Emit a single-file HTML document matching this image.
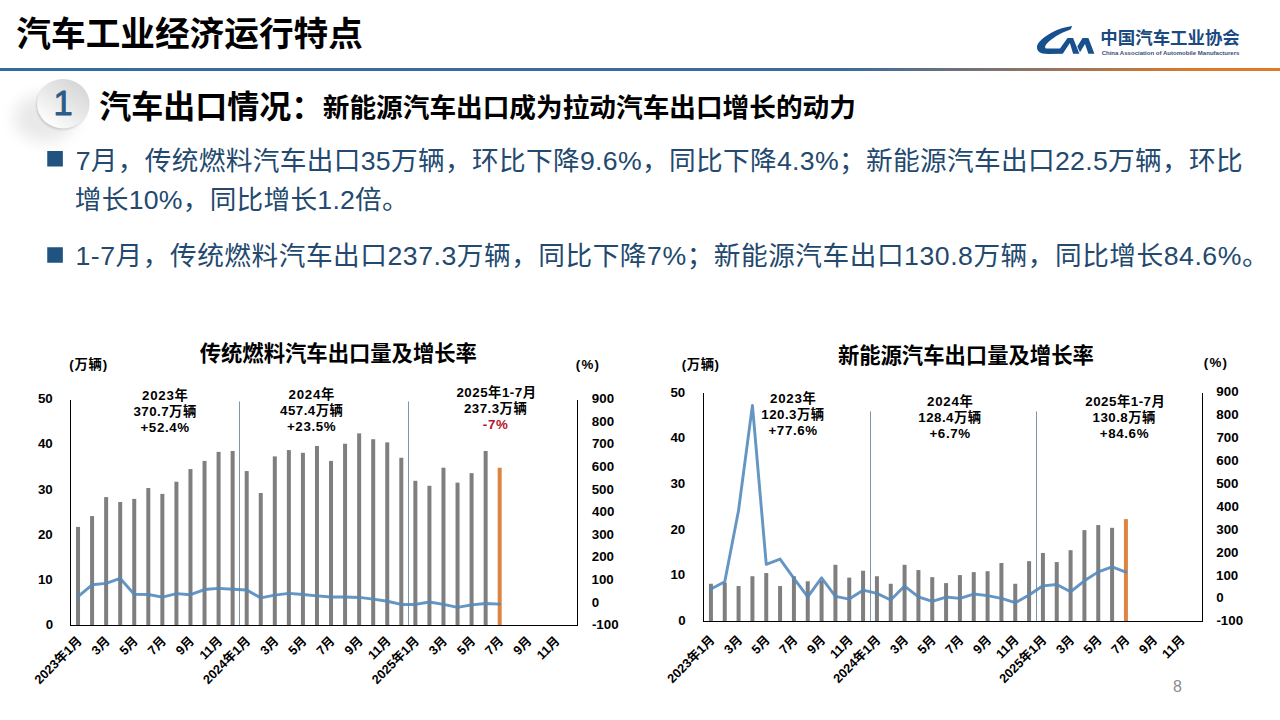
<!DOCTYPE html>
<html lang="zh-CN"><head><meta charset="utf-8"><title>汽车工业经济运行特点</title>
<style>
html,body{margin:0;padding:0;background:#fff}
body{width:1280px;height:720px;position:relative;overflow:hidden;font-family:"Liberation Sans",sans-serif}
#slide{position:absolute;left:0;top:0;width:1280px;height:720px;overflow:hidden;background:#fff}
.t{margin:0;padding:0;font-weight:normal;position:absolute;white-space:nowrap;overflow:hidden;color:transparent;line-height:1.15;height:1.15em;font-family:"Liberation Sans",sans-serif;z-index:2;pointer-events:none}
svg text{font-family:"Liberation Sans","Noto Sans CJK SC",sans-serif}
svg .b{font-weight:bold}
svg .ax{font-weight:bold;font-size:13.33px;fill:#000}
svg .xl{font-weight:bold;font-size:12.7px;fill:#000;text-anchor:end}
</style></head><body><div id="slide">
<svg width="1280" height="720" viewBox="0 0 1280 720" style="position:absolute;left:0;top:0">
<defs>
<linearGradient id="hl" x1="0" y1="0" x2="1280" y2="0" gradientUnits="userSpaceOnUse">
<stop offset="0" stop-color="#366B9E"/><stop offset="0.66" stop-color="#3B6C9C"/><stop offset="0.80" stop-color="#8A7468"/><stop offset="0.93" stop-color="#D87A2C"/><stop offset="1" stop-color="#E07A26"/></linearGradient>
<linearGradient id="bg1" x1="0.85" y1="0.1" x2="0.2" y2="0.95">
<stop offset="0" stop-color="#D6D6D6"/><stop offset="0.5" stop-color="#E9E9E9"/><stop offset="1" stop-color="#FFFFFF"/></linearGradient>
<filter id="sh" x="-100%" y="-100%" width="300%" height="300%"><feGaussianBlur stdDeviation="8"/></filter>
<filter id="sh2" x="-50%" y="-50%" width="200%" height="200%"><feGaussianBlur stdDeviation="1.2"/></filter>
</defs>
<text class="b" x="16.32" y="46.46" font-size="34.67" fill="#000">汽车工业经济运行特点</text>
<rect x="0" y="68" width="1280" height="3" fill="url(#hl)"/>
<path fill="#17508C" d="M1072.2,26 C1058,27.6 1044.5,35.5 1038.6,42.8 C1035.6,46.8 1036.6,52 1042.5,53.5 L1048,53.9 L1062.8,53.8 L1069.9,42.9 L1073.1,53.8 L1079.4,53.8 L1073.1,37.9 L1067.5,37.9 L1060,48.5 L1045.9,48.5 C1044.4,47.2 1045.2,45.4 1047.2,43.2 C1051.5,39 1059.5,33.2 1070.6,29.6 Z"/>
<path fill="#17508C" d="M1082.5,37.9 L1088.4,37.9 L1094.4,53.8 L1088.4,53.8 L1085,44.1 L1080,52.25 L1077.3,46.6 Z"/>
<text class="b" x="1100.37" y="43.68" font-size="17.43" fill="#1B4A80">中国汽车工业协会</text>
<text class="b" x="1101.65" y="54.5" font-size="6.1" fill="#3A4E78" textLength="137.8" lengthAdjust="spacingAndGlyphs">China Association of Automobile Manufacturers</text>
<ellipse cx="45" cy="118" rx="31" ry="24" fill="#000" opacity="0.085" filter="url(#sh)"/>
<ellipse cx="62.4" cy="105" rx="26" ry="24.6" fill="#000" opacity="0.16" filter="url(#sh2)"/>
<ellipse cx="63.25" cy="103.75" rx="26.25" ry="24.75" fill="url(#bg1)"/>
<text x="53.43" y="115.1" font-size="34.5" fill="#2B5B86" stroke="#2B5B86" stroke-width="0.9" stroke-linejoin="round">1</text>
<text class="b" x="99.14" y="117.68" font-size="32" fill="#000">汽车出口情况：</text>
<text class="b" x="322.79" y="116.89" font-size="26.67" fill="#000">新能源汽车出口成为拉动汽车出口增长的动力</text>
<rect x="47.25" y="151" width="15.6" height="15.5" fill="#20537F"/>
<rect x="47.25" y="247.25" width="15.6" height="15.5" fill="#20537F"/>
<text x="75.7" y="169.6" font-size="26.67" fill="#23496E" textLength="1167" lengthAdjust="spacing">7月，传统燃料汽车出口35万辆，环比下降9.6%，同比下降4.3%；新能源汽车出口22.5万辆，环比</text>
<text x="74.87" y="209" font-size="26.67" fill="#23496E" textLength="333.8" lengthAdjust="spacing">增长10%，同比增长1.2倍。</text>
<text x="75.49" y="265.3" font-size="26.67" fill="#23496E" textLength="1193.1" lengthAdjust="spacing">1-7月，传统燃料汽车出口237.3万辆，同比下降7%；新能源汽车出口130.8万辆，同比增长84.6%。</text>
<text x="1172.93" y="692" font-size="16" fill="#8C8C8C">8</text>
<rect x="239" y="401.5" width="1" height="223.5" fill="#7D96A8"/>
<rect x="408" y="401.5" width="1" height="223.5" fill="#7D96A8"/>
<rect x="76.03" y="526.92" width="4" height="98.08" fill="#7F7F7F"/><rect x="90.08" y="516.07" width="4" height="108.93" fill="#7F7F7F"/><rect x="104.14" y="497.08" width="4" height="127.92" fill="#7F7F7F"/><rect x="118.19" y="502.06" width="4" height="122.94" fill="#7F7F7F"/><rect x="132.25" y="498.89" width="4" height="126.11" fill="#7F7F7F"/><rect x="146.31" y="488.04" width="4" height="136.96" fill="#7F7F7F"/><rect x="160.36" y="493.92" width="4" height="131.08" fill="#7F7F7F"/><rect x="174.42" y="481.72" width="4" height="143.28" fill="#7F7F7F"/><rect x="188.47" y="469.06" width="4" height="155.94" fill="#7F7F7F"/><rect x="202.53" y="460.92" width="4" height="164.08" fill="#7F7F7F"/><rect x="216.58" y="451.88" width="4" height="173.12" fill="#7F7F7F"/><rect x="230.64" y="450.98" width="4" height="174.02" fill="#7F7F7F"/><rect x="244.69" y="471.05" width="4" height="153.95" fill="#7F7F7F"/><rect x="258.75" y="493.02" width="4" height="131.98" fill="#7F7F7F"/><rect x="272.81" y="456.4" width="4" height="168.6" fill="#7F7F7F"/><rect x="286.86" y="450.08" width="4" height="174.92" fill="#7F7F7F"/><rect x="300.92" y="452.79" width="4" height="172.21" fill="#7F7F7F"/><rect x="314.97" y="446.01" width="4" height="178.99" fill="#7F7F7F"/><rect x="329.03" y="460.92" width="4" height="164.08" fill="#7F7F7F"/><rect x="343.08" y="443.75" width="4" height="181.25" fill="#7F7F7F"/><rect x="357.14" y="433.35" width="4" height="191.65" fill="#7F7F7F"/><rect x="371.19" y="439.23" width="4" height="185.77" fill="#7F7F7F"/><rect x="385.25" y="442.39" width="4" height="182.61" fill="#7F7F7F"/><rect x="399.31" y="457.76" width="4" height="167.24" fill="#7F7F7F"/><rect x="413.36" y="480.81" width="4" height="144.19" fill="#7F7F7F"/><rect x="427.42" y="485.78" width="4" height="139.22" fill="#7F7F7F"/><rect x="441.47" y="467.7" width="4" height="157.3" fill="#7F7F7F"/><rect x="455.53" y="482.62" width="4" height="142.38" fill="#7F7F7F"/><rect x="469.58" y="473.13" width="4" height="151.87" fill="#7F7F7F"/><rect x="483.64" y="450.98" width="4" height="174.02" fill="#7F7F7F"/><rect x="497.69" y="467.7" width="4" height="157.3" fill="#DE8443"/>
<polyline points="78.03,596.52 92.08,584.77 106.14,583.42 120.19,578.44 134.25,594.26 148.31,594.49 162.36,597.07 176.42,593.59 190.47,594.72 204.53,589.52 218.58,588.39 232.64,589.29 246.69,590.06 260.75,597.88 274.81,595.17 288.86,593.36 302.92,594.49 316.97,595.85 331.03,596.98 345.08,596.98 359.14,597.43 373.19,599.12 387.25,601.27 401.31,604.43 415.36,604.43 429.42,601.95 443.47,604.43 457.53,607.37 471.58,604.89 485.64,603.53 499.69,604.1" fill="none" stroke="#538ABC" stroke-width="2.9" stroke-linejoin="round" stroke-linecap="round" opacity="0.9"/>
<rect x="70" y="400" width="1" height="226" fill="#000"/>
<rect x="577" y="400" width="1" height="226" fill="#000"/>
<rect x="70" y="625" width="508" height="1" fill="#000"/>
<text class="ax" x="45.75" y="629.1">0</text>
<text class="ax" x="37.92" y="583.9">10</text>
<text class="ax" x="37.92" y="538.7">20</text>
<text class="ax" x="37.92" y="493.5">30</text>
<text class="ax" x="37.92" y="448.3">40</text>
<text class="ax" x="37.92" y="403.1">50</text>
<text class="ax" x="591.89" y="629.1">-100</text>
<text class="ax" x="591.8" y="606.5">0</text>
<text class="ax" x="591.49" y="583.9">100</text>
<text class="ax" x="591.78" y="561.3">200</text>
<text class="ax" x="591.78" y="538.7">300</text>
<text class="ax" x="592.07" y="516.1">400</text>
<text class="ax" x="591.63" y="493.5">500</text>
<text class="ax" x="591.82" y="470.9">600</text>
<text class="ax" x="591.93" y="448.3">700</text>
<text class="ax" x="591.82" y="425.7">800</text>
<text class="ax" x="591.86" y="403.1">900</text>
<text class="b" x="199.66" y="360.99" font-size="21.33" fill="#000">传统燃料汽车出口量及增长率</text>
<text class="ax" x="69.22" y="368.9" textLength="37.9" lengthAdjust="spacing">(万辆)</text>
<text class="ax" x="575.72" y="368.6" textLength="23.3" lengthAdjust="spacing">(%)</text>
<text class="ax" x="142.11" y="399.5" textLength="45.8" lengthAdjust="spacing">2023年</text>
<text class="ax" x="133.41" y="415.5" textLength="62.8" lengthAdjust="spacing">370.7万辆</text>
<text class="ax" x="140.4" y="431.5" textLength="48.8" lengthAdjust="spacing">+52.4%</text>
<text class="ax" x="288.61" y="399.3" textLength="45.8" lengthAdjust="spacing">2024年</text>
<text class="ax" x="280.06" y="415.3" textLength="62.8" lengthAdjust="spacing">457.4万辆</text>
<text class="ax" x="286.9" y="431.3" textLength="48.8" lengthAdjust="spacing">+23.5%</text>
<text class="ax" x="456.42" y="396.8" textLength="79.6" lengthAdjust="spacing">2025年1-7月</text>
<text class="ax" x="463.91" y="412.8" textLength="62.8" lengthAdjust="spacing">237.3万辆</text>
<text class="ax" x="482.84" y="428.8" textLength="25.1" lengthAdjust="spacing" style="fill:#B8142A">-7%</text>
<text class="xl" x="76.23" y="646.15" transform="rotate(-45 74.13 636.25)">2023年1月</text>
<text class="xl" x="104.34" y="646.15" transform="rotate(-45 102.24 636.25)">3月</text>
<text class="xl" x="132.45" y="646.15" transform="rotate(-45 130.35 636.25)">5月</text>
<text class="xl" x="160.56" y="646.15" transform="rotate(-45 158.46 636.25)">7月</text>
<text class="xl" x="188.67" y="646.15" transform="rotate(-45 186.57 636.25)">9月</text>
<text class="xl" x="216.78" y="646.15" transform="rotate(-45 214.68 636.25)">11月</text>
<text class="xl" x="244.89" y="646.15" transform="rotate(-45 242.79 636.25)">2024年1月</text>
<text class="xl" x="273.01" y="646.15" transform="rotate(-45 270.91 636.25)">3月</text>
<text class="xl" x="301.12" y="646.15" transform="rotate(-45 299.02 636.25)">5月</text>
<text class="xl" x="329.23" y="646.15" transform="rotate(-45 327.13 636.25)">7月</text>
<text class="xl" x="357.34" y="646.15" transform="rotate(-45 355.24 636.25)">9月</text>
<text class="xl" x="385.45" y="646.15" transform="rotate(-45 383.35 636.25)">11月</text>
<text class="xl" x="413.56" y="646.15" transform="rotate(-45 411.46 636.25)">2025年1月</text>
<text class="xl" x="441.67" y="646.15" transform="rotate(-45 439.57 636.25)">3月</text>
<text class="xl" x="469.78" y="646.15" transform="rotate(-45 467.68 636.25)">5月</text>
<text class="xl" x="497.89" y="646.15" transform="rotate(-45 495.79 636.25)">7月</text>
<text class="xl" x="526.01" y="646.15" transform="rotate(-45 523.91 636.25)">9月</text>
<text class="xl" x="554.12" y="646.15" transform="rotate(-45 552.02 636.25)">11月</text>
<rect x="870" y="411.5" width="1" height="209.5" fill="#7D96A8"/>
<rect x="1036" y="411.5" width="1" height="209.5" fill="#7D96A8"/>
<rect x="708.92" y="583.77" width="4" height="37.23" fill="#7F7F7F"/><rect x="722.75" y="582.63" width="4" height="38.37" fill="#7F7F7F"/><rect x="736.58" y="586.05" width="4" height="34.95" fill="#7F7F7F"/><rect x="750.42" y="576.23" width="4" height="44.77" fill="#7F7F7F"/><rect x="764.25" y="573.04" width="4" height="47.96" fill="#7F7F7F"/><rect x="778.08" y="586.05" width="4" height="34.95" fill="#7F7F7F"/><rect x="791.92" y="576.23" width="4" height="44.77" fill="#7F7F7F"/><rect x="805.75" y="581.26" width="4" height="39.74" fill="#7F7F7F"/><rect x="819.58" y="580.8" width="4" height="40.2" fill="#7F7F7F"/><rect x="833.42" y="564.81" width="4" height="56.19" fill="#7F7F7F"/><rect x="847.25" y="577.6" width="4" height="43.4" fill="#7F7F7F"/><rect x="861.08" y="570.75" width="4" height="50.25" fill="#7F7F7F"/><rect x="874.92" y="576.23" width="4" height="44.77" fill="#7F7F7F"/><rect x="888.75" y="583.77" width="4" height="37.23" fill="#7F7F7F"/><rect x="902.58" y="564.81" width="4" height="56.19" fill="#7F7F7F"/><rect x="916.42" y="570.07" width="4" height="50.93" fill="#7F7F7F"/><rect x="930.25" y="577.15" width="4" height="43.85" fill="#7F7F7F"/><rect x="944.08" y="583.09" width="4" height="37.91" fill="#7F7F7F"/><rect x="957.92" y="575.09" width="4" height="45.91" fill="#7F7F7F"/><rect x="971.75" y="572.12" width="4" height="48.88" fill="#7F7F7F"/><rect x="985.58" y="571.21" width="4" height="49.79" fill="#7F7F7F"/><rect x="999.42" y="562.99" width="4" height="58.01" fill="#7F7F7F"/><rect x="1013.25" y="583.77" width="4" height="37.23" fill="#7F7F7F"/><rect x="1027.08" y="561.16" width="4" height="59.84" fill="#7F7F7F"/><rect x="1040.92" y="552.94" width="4" height="68.06" fill="#7F7F7F"/><rect x="1054.75" y="562.07" width="4" height="58.93" fill="#7F7F7F"/><rect x="1068.58" y="550.2" width="4" height="70.8" fill="#7F7F7F"/><rect x="1082.42" y="530.1" width="4" height="90.9" fill="#7F7F7F"/><rect x="1096.25" y="525.07" width="4" height="95.93" fill="#7F7F7F"/><rect x="1110.08" y="527.81" width="4" height="93.19" fill="#7F7F7F"/><rect x="1123.92" y="519.13" width="4" height="101.87" fill="#DE8443"/>
<polyline points="710.92,589.02 724.75,581.72 738.58,510.23 752.42,405.39 766.25,564.36 780.08,559.1 793.92,578.4 807.75,596.79 821.58,577.83 835.42,596.33 849.25,599.07 863.08,590.17 876.92,593.36 890.75,599.99 904.58,586.05 918.42,596.79 932.25,601.36 946.08,597.02 959.92,598.39 973.75,594.05 987.58,595.65 1001.42,598.39 1015.25,602.73 1029.08,595.08 1042.92,585.83 1056.75,584.46 1070.58,591.76 1084.42,580.8 1098.25,571.89 1112.08,566.87 1125.92,572.12" fill="none" stroke="#538ABC" stroke-width="2.9" stroke-linejoin="round" stroke-linecap="round" opacity="0.9"/>
<rect x="703" y="393" width="1" height="229" fill="#000"/>
<rect x="1202" y="393" width="1" height="229" fill="#000"/>
<rect x="703" y="621" width="500" height="1" fill="#000"/>
<text class="ax" x="678.25" y="625">0</text>
<text class="ax" x="670.42" y="579.32">10</text>
<text class="ax" x="670.42" y="533.64">20</text>
<text class="ax" x="670.42" y="487.96">30</text>
<text class="ax" x="670.42" y="442.28">40</text>
<text class="ax" x="670.42" y="396.6">50</text>
<text class="ax" x="1216.39" y="625.4">-100</text>
<text class="ax" x="1216.3" y="602.49">0</text>
<text class="ax" x="1215.99" y="579.58">100</text>
<text class="ax" x="1216.28" y="556.67">200</text>
<text class="ax" x="1216.28" y="533.76">300</text>
<text class="ax" x="1216.57" y="510.85">400</text>
<text class="ax" x="1216.13" y="487.94">500</text>
<text class="ax" x="1216.32" y="465.03">600</text>
<text class="ax" x="1216.43" y="442.12">700</text>
<text class="ax" x="1216.32" y="419.21">800</text>
<text class="ax" x="1216.36" y="396.3">900</text>
<text class="b" x="837.88" y="363.49" font-size="21.33" fill="#000">新能源汽车出口量及增长率</text>
<text class="ax" x="681.72" y="368.9" textLength="37.3" lengthAdjust="spacing">(万辆)</text>
<text class="ax" x="1203.77" y="367" textLength="23.3" lengthAdjust="spacing">(%)</text>
<text class="ax" x="770.11" y="403.1" textLength="45.8" lengthAdjust="spacing">2023年</text>
<text class="ax" x="761.26" y="419.1" textLength="62.8" lengthAdjust="spacing">120.3万辆</text>
<text class="ax" x="768.4" y="435.1" textLength="48.8" lengthAdjust="spacing">+77.6%</text>
<text class="ax" x="927.11" y="406" textLength="45.8" lengthAdjust="spacing">2024年</text>
<text class="ax" x="918.26" y="422" textLength="62.8" lengthAdjust="spacing">128.4万辆</text>
<text class="ax" x="929.44" y="438" textLength="40.7" lengthAdjust="spacing">+6.7%</text>
<text class="ax" x="1085.22" y="405.6" textLength="79.6" lengthAdjust="spacing">2025年1-7月</text>
<text class="ax" x="1092.56" y="421.6" textLength="62.8" lengthAdjust="spacing">130.8万辆</text>
<text class="ax" x="1099.7" y="437.6" textLength="48.8" lengthAdjust="spacing">+84.6%</text>
<text class="xl" x="709.12" y="645.2" transform="rotate(-45 707.02 635.3)">2023年1月</text>
<text class="xl" x="736.78" y="645.2" transform="rotate(-45 734.68 635.3)">3月</text>
<text class="xl" x="764.45" y="645.2" transform="rotate(-45 762.35 635.3)">5月</text>
<text class="xl" x="792.12" y="645.2" transform="rotate(-45 790.02 635.3)">7月</text>
<text class="xl" x="819.78" y="645.2" transform="rotate(-45 817.68 635.3)">9月</text>
<text class="xl" x="847.45" y="645.2" transform="rotate(-45 845.35 635.3)">11月</text>
<text class="xl" x="875.12" y="645.2" transform="rotate(-45 873.02 635.3)">2024年1月</text>
<text class="xl" x="902.78" y="645.2" transform="rotate(-45 900.68 635.3)">3月</text>
<text class="xl" x="930.45" y="645.2" transform="rotate(-45 928.35 635.3)">5月</text>
<text class="xl" x="958.12" y="645.2" transform="rotate(-45 956.02 635.3)">7月</text>
<text class="xl" x="985.78" y="645.2" transform="rotate(-45 983.68 635.3)">9月</text>
<text class="xl" x="1013.45" y="645.2" transform="rotate(-45 1011.35 635.3)">11月</text>
<text class="xl" x="1041.12" y="645.2" transform="rotate(-45 1039.02 635.3)">2025年1月</text>
<text class="xl" x="1068.78" y="645.2" transform="rotate(-45 1066.68 635.3)">3月</text>
<text class="xl" x="1096.45" y="645.2" transform="rotate(-45 1094.35 635.3)">5月</text>
<text class="xl" x="1124.12" y="645.2" transform="rotate(-45 1122.02 635.3)">7月</text>
<text class="xl" x="1151.78" y="645.2" transform="rotate(-45 1149.68 635.3)">9月</text>
<text class="xl" x="1179.45" y="645.2" transform="rotate(-45 1177.35 635.3)">11月</text>
</svg>
<h1 class="t" style="left:16.84px;top:13.65px;font-size:34.67px;width:366.04px;font-weight:bold;">汽车工业经济运行特点</h1>
<div class="t" style="left:1100.62px;top:27.69px;font-size:16.9px;width:148.43px;font-weight:bold;">中国汽车工业协会</div>
<div class="t" style="left:1101.65px;top:49.01px;font-size:6.1px;width:146.84px;font-weight:bold;">China Association of Automobile Manufacturers</div>
<div class="t" style="left:53.43px;top:84.05px;font-size:34.5px;width:22.71px;">1</div>
<h2 class="t" style="left:99.62px;top:87.4px;font-size:32px;width:203.6px;font-weight:bold;">汽车出口情况：</h2>
<h2 class="t" style="left:323.19px;top:91.65px;font-size:26.67px;width:562.07px;font-weight:bold;">新能源汽车出口成为拉动汽车出口增长的动力</h2>
<p class="t" style="left:75.7px;top:144.75px;font-size:26.67px;width:1225.56px;">7月，传统燃料汽车出口35万辆，环比下降9.6%，同比下降4.3%；新能源汽车出口22.5万辆，环比</p>
<p class="t" style="left:75.52px;top:184.1px;font-size:26.67px;width:354.73px;">增长10%，同比增长1.2倍。</p>
<p class="t" style="left:75.49px;top:240.4px;font-size:26.67px;width:1247.36px;">1-7月，传统燃料汽车出口237.3万辆，同比下降7%；新能源汽车出口130.8万辆，同比增长84.6%。</p>
<div class="t" style="left:1172.93px;top:677.6px;font-size:16px;width:11.61px;">8</div>
<div class="t" style="left:45.75px;top:617.1px;font-size:13.33px;width:10.23px;font-weight:bold;">0</div>
<div class="t" style="left:37.92px;top:571.9px;font-size:13.33px;width:18.46px;font-weight:bold;">10</div>
<div class="t" style="left:37.92px;top:526.7px;font-size:13.33px;width:18.46px;font-weight:bold;">20</div>
<div class="t" style="left:37.92px;top:481.5px;font-size:13.33px;width:18.46px;font-weight:bold;">30</div>
<div class="t" style="left:37.92px;top:436.3px;font-size:13.33px;width:18.46px;font-weight:bold;">40</div>
<div class="t" style="left:37.92px;top:391.1px;font-size:13.33px;width:18.46px;font-weight:bold;">50</div>
<div class="t" style="left:591.89px;top:617.1px;font-size:13.33px;width:31.33px;font-weight:bold;">-100</div>
<div class="t" style="left:591.8px;top:594.5px;font-size:13.33px;width:10.23px;font-weight:bold;">0</div>
<div class="t" style="left:591.49px;top:571.9px;font-size:13.33px;width:26.69px;font-weight:bold;">100</div>
<div class="t" style="left:591.78px;top:549.3px;font-size:13.33px;width:26.69px;font-weight:bold;">200</div>
<div class="t" style="left:591.78px;top:526.7px;font-size:13.33px;width:26.69px;font-weight:bold;">300</div>
<div class="t" style="left:592.07px;top:504.1px;font-size:13.33px;width:26.69px;font-weight:bold;">400</div>
<div class="t" style="left:591.63px;top:481.5px;font-size:13.33px;width:26.69px;font-weight:bold;">500</div>
<div class="t" style="left:591.82px;top:458.9px;font-size:13.33px;width:26.69px;font-weight:bold;">600</div>
<div class="t" style="left:591.93px;top:436.3px;font-size:13.33px;width:26.69px;font-weight:bold;">700</div>
<div class="t" style="left:591.82px;top:413.7px;font-size:13.33px;width:26.69px;font-weight:bold;">800</div>
<div class="t" style="left:591.86px;top:391.1px;font-size:13.33px;width:26.69px;font-weight:bold;">900</div>
<h3 class="t" style="left:199.98px;top:340.8px;font-size:21.33px;width:293.15px;font-weight:bold;">传统燃料汽车出口量及增长率</h3>
<div class="t" style="left:69.22px;top:356.6px;font-size:13.33px;width:6.44px;font-weight:bold;">(万辆)</div>
<div class="t" style="left:575.72px;top:356.6px;font-size:13.33px;width:6.44px;font-weight:bold;">(%)</div>
<div class="t" style="left:142.11px;top:387.5px;font-size:13.33px;width:49.87px;font-weight:bold;">2023年</div>
<div class="t" style="left:133.41px;top:403.5px;font-size:13.33px;width:68.1px;font-weight:bold;">370.7万辆</div>
<div class="t" style="left:140.4px;top:419.5px;font-size:13.33px;width:53.47px;font-weight:bold;">+52.4%</div>
<div class="t" style="left:288.61px;top:387.3px;font-size:13.33px;width:49.87px;font-weight:bold;">2024年</div>
<div class="t" style="left:280.06px;top:403.3px;font-size:13.33px;width:68.1px;font-weight:bold;">457.4万辆</div>
<div class="t" style="left:286.9px;top:419.3px;font-size:13.33px;width:53.47px;font-weight:bold;">+23.5%</div>
<div class="t" style="left:456.42px;top:384.8px;font-size:13.33px;width:85.58px;font-weight:bold;">2025年1-7月</div>
<div class="t" style="left:463.91px;top:400.8px;font-size:13.33px;width:68.1px;font-weight:bold;">237.3万辆</div>
<div class="t" style="left:482.84px;top:416.8px;font-size:13.33px;width:28.61px;font-weight:bold;">-7%</div>
<div class="t" style="left:13.28px;top:634.72px;font-size:12.7px;width:67.87px;font-weight:bold;transform-origin:60.84px 1.53px;transform:rotate(-45deg);">2023年1月</div>
<div class="t" style="left:83.96px;top:634.72px;font-size:12.7px;width:23.17px;font-weight:bold;transform-origin:18.28px 1.53px;transform:rotate(-45deg);">3月</div>
<div class="t" style="left:112.07px;top:634.72px;font-size:12.7px;width:23.17px;font-weight:bold;transform-origin:18.28px 1.53px;transform:rotate(-45deg);">5月</div>
<div class="t" style="left:140.18px;top:634.72px;font-size:12.7px;width:23.17px;font-weight:bold;transform-origin:18.28px 1.53px;transform:rotate(-45deg);">7月</div>
<div class="t" style="left:168.29px;top:634.72px;font-size:12.7px;width:23.17px;font-weight:bold;transform-origin:18.28px 1.53px;transform:rotate(-45deg);">9月</div>
<div class="t" style="left:188.94px;top:634.72px;font-size:12.7px;width:31.01px;font-weight:bold;transform-origin:25.74px 1.53px;transform:rotate(-45deg);">11月</div>
<div class="t" style="left:181.95px;top:634.72px;font-size:12.7px;width:67.87px;font-weight:bold;transform-origin:60.84px 1.53px;transform:rotate(-45deg);">2024年1月</div>
<div class="t" style="left:252.63px;top:634.72px;font-size:12.7px;width:23.17px;font-weight:bold;transform-origin:18.28px 1.53px;transform:rotate(-45deg);">3月</div>
<div class="t" style="left:280.74px;top:634.72px;font-size:12.7px;width:23.17px;font-weight:bold;transform-origin:18.28px 1.53px;transform:rotate(-45deg);">5月</div>
<div class="t" style="left:308.85px;top:634.72px;font-size:12.7px;width:23.17px;font-weight:bold;transform-origin:18.28px 1.53px;transform:rotate(-45deg);">7月</div>
<div class="t" style="left:336.96px;top:634.72px;font-size:12.7px;width:23.17px;font-weight:bold;transform-origin:18.28px 1.53px;transform:rotate(-45deg);">9月</div>
<div class="t" style="left:357.61px;top:634.72px;font-size:12.7px;width:31.01px;font-weight:bold;transform-origin:25.74px 1.53px;transform:rotate(-45deg);">11月</div>
<div class="t" style="left:350.62px;top:634.72px;font-size:12.7px;width:67.87px;font-weight:bold;transform-origin:60.84px 1.53px;transform:rotate(-45deg);">2025年1月</div>
<div class="t" style="left:421.29px;top:634.72px;font-size:12.7px;width:23.17px;font-weight:bold;transform-origin:18.28px 1.53px;transform:rotate(-45deg);">3月</div>
<div class="t" style="left:449.41px;top:634.72px;font-size:12.7px;width:23.17px;font-weight:bold;transform-origin:18.28px 1.53px;transform:rotate(-45deg);">5月</div>
<div class="t" style="left:477.52px;top:634.72px;font-size:12.7px;width:23.17px;font-weight:bold;transform-origin:18.28px 1.53px;transform:rotate(-45deg);">7月</div>
<div class="t" style="left:505.63px;top:634.72px;font-size:12.7px;width:23.17px;font-weight:bold;transform-origin:18.28px 1.53px;transform:rotate(-45deg);">9月</div>
<div class="t" style="left:526.27px;top:634.72px;font-size:12.7px;width:31.01px;font-weight:bold;transform-origin:25.74px 1.53px;transform:rotate(-45deg);">11月</div>
<div class="t" style="left:678.25px;top:613px;font-size:13.33px;width:10.23px;font-weight:bold;">0</div>
<div class="t" style="left:670.42px;top:567.32px;font-size:13.33px;width:18.46px;font-weight:bold;">10</div>
<div class="t" style="left:670.42px;top:521.64px;font-size:13.33px;width:18.46px;font-weight:bold;">20</div>
<div class="t" style="left:670.42px;top:475.96px;font-size:13.33px;width:18.46px;font-weight:bold;">30</div>
<div class="t" style="left:670.42px;top:430.28px;font-size:13.33px;width:18.46px;font-weight:bold;">40</div>
<div class="t" style="left:670.42px;top:384.6px;font-size:13.33px;width:18.46px;font-weight:bold;">50</div>
<div class="t" style="left:1216.39px;top:613.4px;font-size:13.33px;width:31.33px;font-weight:bold;">-100</div>
<div class="t" style="left:1216.3px;top:590.49px;font-size:13.33px;width:10.23px;font-weight:bold;">0</div>
<div class="t" style="left:1215.99px;top:567.58px;font-size:13.33px;width:26.69px;font-weight:bold;">100</div>
<div class="t" style="left:1216.28px;top:544.67px;font-size:13.33px;width:26.69px;font-weight:bold;">200</div>
<div class="t" style="left:1216.28px;top:521.76px;font-size:13.33px;width:26.69px;font-weight:bold;">300</div>
<div class="t" style="left:1216.57px;top:498.85px;font-size:13.33px;width:26.69px;font-weight:bold;">400</div>
<div class="t" style="left:1216.13px;top:475.94px;font-size:13.33px;width:26.69px;font-weight:bold;">500</div>
<div class="t" style="left:1216.32px;top:453.03px;font-size:13.33px;width:26.69px;font-weight:bold;">600</div>
<div class="t" style="left:1216.43px;top:430.12px;font-size:13.33px;width:26.69px;font-weight:bold;">700</div>
<div class="t" style="left:1216.32px;top:407.21px;font-size:13.33px;width:26.69px;font-weight:bold;">800</div>
<div class="t" style="left:1216.36px;top:384.3px;font-size:13.33px;width:26.69px;font-weight:bold;">900</div>
<h3 class="t" style="left:838.2px;top:343.3px;font-size:21.33px;width:270.76px;font-weight:bold;">新能源汽车出口量及增长率</h3>
<div class="t" style="left:681.72px;top:356.6px;font-size:13.33px;width:6.44px;font-weight:bold;">(万辆)</div>
<div class="t" style="left:1203.77px;top:355px;font-size:13.33px;width:6.44px;font-weight:bold;">(%)</div>
<div class="t" style="left:770.11px;top:391.1px;font-size:13.33px;width:49.87px;font-weight:bold;">2023年</div>
<div class="t" style="left:761.26px;top:407.1px;font-size:13.33px;width:68.1px;font-weight:bold;">120.3万辆</div>
<div class="t" style="left:768.4px;top:423.1px;font-size:13.33px;width:53.47px;font-weight:bold;">+77.6%</div>
<div class="t" style="left:927.11px;top:394px;font-size:13.33px;width:49.87px;font-weight:bold;">2024年</div>
<div class="t" style="left:918.26px;top:410px;font-size:13.33px;width:68.1px;font-weight:bold;">128.4万辆</div>
<div class="t" style="left:929.44px;top:426px;font-size:13.33px;width:45px;font-weight:bold;">+6.7%</div>
<div class="t" style="left:1085.22px;top:393.6px;font-size:13.33px;width:85.58px;font-weight:bold;">2025年1-7月</div>
<div class="t" style="left:1092.56px;top:409.6px;font-size:13.33px;width:68.1px;font-weight:bold;">130.8万辆</div>
<div class="t" style="left:1099.7px;top:425.6px;font-size:13.33px;width:53.47px;font-weight:bold;">+84.6%</div>
<div class="t" style="left:646.17px;top:633.77px;font-size:12.7px;width:67.87px;font-weight:bold;transform-origin:60.84px 1.53px;transform:rotate(-45deg);">2023年1月</div>
<div class="t" style="left:716.41px;top:633.77px;font-size:12.7px;width:23.17px;font-weight:bold;transform-origin:18.28px 1.53px;transform:rotate(-45deg);">3月</div>
<div class="t" style="left:744.07px;top:633.77px;font-size:12.7px;width:23.17px;font-weight:bold;transform-origin:18.28px 1.53px;transform:rotate(-45deg);">5月</div>
<div class="t" style="left:771.74px;top:633.77px;font-size:12.7px;width:23.17px;font-weight:bold;transform-origin:18.28px 1.53px;transform:rotate(-45deg);">7月</div>
<div class="t" style="left:799.41px;top:633.77px;font-size:12.7px;width:23.17px;font-weight:bold;transform-origin:18.28px 1.53px;transform:rotate(-45deg);">9月</div>
<div class="t" style="left:819.61px;top:633.77px;font-size:12.7px;width:31.01px;font-weight:bold;transform-origin:25.74px 1.53px;transform:rotate(-45deg);">11月</div>
<div class="t" style="left:812.17px;top:633.77px;font-size:12.7px;width:67.87px;font-weight:bold;transform-origin:60.84px 1.53px;transform:rotate(-45deg);">2024年1月</div>
<div class="t" style="left:882.41px;top:633.77px;font-size:12.7px;width:23.17px;font-weight:bold;transform-origin:18.28px 1.53px;transform:rotate(-45deg);">3月</div>
<div class="t" style="left:910.07px;top:633.77px;font-size:12.7px;width:23.17px;font-weight:bold;transform-origin:18.28px 1.53px;transform:rotate(-45deg);">5月</div>
<div class="t" style="left:937.74px;top:633.77px;font-size:12.7px;width:23.17px;font-weight:bold;transform-origin:18.28px 1.53px;transform:rotate(-45deg);">7月</div>
<div class="t" style="left:965.41px;top:633.77px;font-size:12.7px;width:23.17px;font-weight:bold;transform-origin:18.28px 1.53px;transform:rotate(-45deg);">9月</div>
<div class="t" style="left:985.61px;top:633.77px;font-size:12.7px;width:31.01px;font-weight:bold;transform-origin:25.74px 1.53px;transform:rotate(-45deg);">11月</div>
<div class="t" style="left:978.17px;top:633.77px;font-size:12.7px;width:67.87px;font-weight:bold;transform-origin:60.84px 1.53px;transform:rotate(-45deg);">2025年1月</div>
<div class="t" style="left:1048.41px;top:633.77px;font-size:12.7px;width:23.17px;font-weight:bold;transform-origin:18.28px 1.53px;transform:rotate(-45deg);">3月</div>
<div class="t" style="left:1076.07px;top:633.77px;font-size:12.7px;width:23.17px;font-weight:bold;transform-origin:18.28px 1.53px;transform:rotate(-45deg);">5月</div>
<div class="t" style="left:1103.74px;top:633.77px;font-size:12.7px;width:23.17px;font-weight:bold;transform-origin:18.28px 1.53px;transform:rotate(-45deg);">7月</div>
<div class="t" style="left:1131.41px;top:633.77px;font-size:12.7px;width:23.17px;font-weight:bold;transform-origin:18.28px 1.53px;transform:rotate(-45deg);">9月</div>
<div class="t" style="left:1151.61px;top:633.77px;font-size:12.7px;width:31.01px;font-weight:bold;transform-origin:25.74px 1.53px;transform:rotate(-45deg);">11月</div>
</div></body></html>
